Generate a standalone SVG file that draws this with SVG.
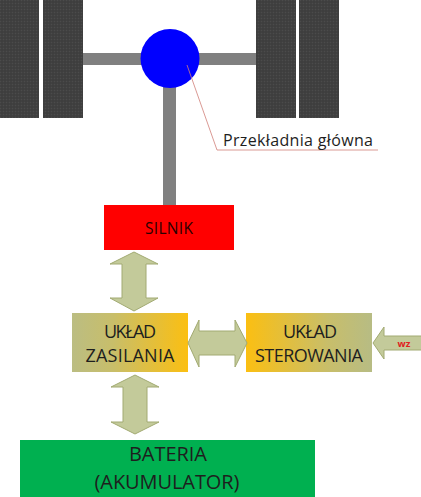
<svg xmlns="http://www.w3.org/2000/svg" width="421" height="497" viewBox="0 0 421 497">
<style>
.wheel{fill:url(#tread)}
.bar{fill:#808080}
.arr{fill:#c3ca9a;stroke:#a2aa72;stroke-width:1}
.t{font-family:"Open Sans","Noto Sans","Liberation Sans",sans-serif;fill:#1e1e1e;text-anchor:middle}
</style>
<defs>
<pattern id="tread" width="3" height="3" patternUnits="userSpaceOnUse">
<rect width="3" height="3" fill="#414141"/>
<rect width="1" height="1" fill="#4b4b4b"/>
<rect x="1.5" y="1.5" width="1" height="1" fill="#363636"/>
</pattern>
<linearGradient id="gZas" x1="0" y1="0" x2="1" y2="0">
<stop offset="0" stop-color="#bbbd82"/>
<stop offset="0.35" stop-color="#c8be6a"/>
<stop offset="1" stop-color="#fbbf12"/>
</linearGradient>
<linearGradient id="gSter" x1="0" y1="0" x2="1" y2="0">
<stop offset="0" stop-color="#fbbf12"/>
<stop offset="0.65" stop-color="#c8be6a"/>
<stop offset="1" stop-color="#b7bc84"/>
</linearGradient>
</defs>

<g id="wheels">
<rect class="wheel" x="0" y="0" width="39" height="118"/>
<rect class="wheel" x="43" y="0" width="40" height="118"/>
<rect class="wheel" x="256" y="0" width="40" height="118"/>
<rect class="wheel" x="299" y="0" width="40" height="118"/>
</g>
<g id="axle">
<rect class="bar" x="83" y="53" width="173" height="12"/>
<rect class="bar" x="163" y="80" width="13" height="125"/>
</g>
<g id="przekladnia">
<circle cx="170" cy="58.5" r="29.5" fill="#0000ff"/>
</g>
<g id="label-przekladnia">
<polyline points="187,65 217,150 378,150" fill="none" stroke="#d08078" stroke-width="0.8"/>
<text class="t" x="298" y="146" font-size="16" textLength="150">Przekładnia główna</text>
</g>

<g id="silnik">
<rect x="104" y="205" width="130" height="45" fill="#ff0000"/>
<text class="t" x="169" y="233.5" font-size="15.5" textLength="48" style="fill:#2a0000">SILNIK</text>
</g>

<g id="uklad-zasilania">
<rect x="72" y="313" width="116" height="59" fill="url(#gZas)"/>
<text class="t" x="130" y="338" font-size="18" textLength="52">UKŁAD</text>
<text class="t" x="130" y="362" font-size="18" textLength="89">ZASILANIA</text>
</g>

<g id="uklad-sterowania">
<rect x="246" y="313" width="126" height="59" fill="url(#gSter)"/>
<text class="t" x="310" y="338" font-size="18" textLength="54">UKŁAD</text>
<text class="t" x="309" y="362" font-size="18" textLength="108">STEROWANIA</text>
</g>

<g id="bateria">
<rect x="20" y="440" width="295" height="57" fill="#00b050"/>
<text class="t" x="168" y="461" font-size="20" textLength="78">BATERIA</text>
<text class="t" x="167" y="488.5" font-size="20" textLength="145">(AKUMULATOR)</text>
</g>

<g id="connectors">
<polygon class="arr" points="134,252 158,264 146,264 146,298 158,298 134,311 110,298 122,298 122,264 110,264"/>
<polygon class="arr" points="135,375 159,387 147,387 147,422 159,422 135,434 111,422 123,422 123,387 111,387"/>
<polygon class="arr" points="188,343 199,320 199,331 235,331 235,320 247,343 235,367 235,355 199,355 199,367"/>
<polygon class="arr" points="373,343 384,327 384,336 422,336 422,350 384,350 384,359"/>
<text x="404" y="346.5" font-size="9.5" font-weight="bold" fill="#e02020" text-anchor="middle" font-family="'Open Sans','Liberation Sans',sans-serif">wz</text>
</g>
</svg>
